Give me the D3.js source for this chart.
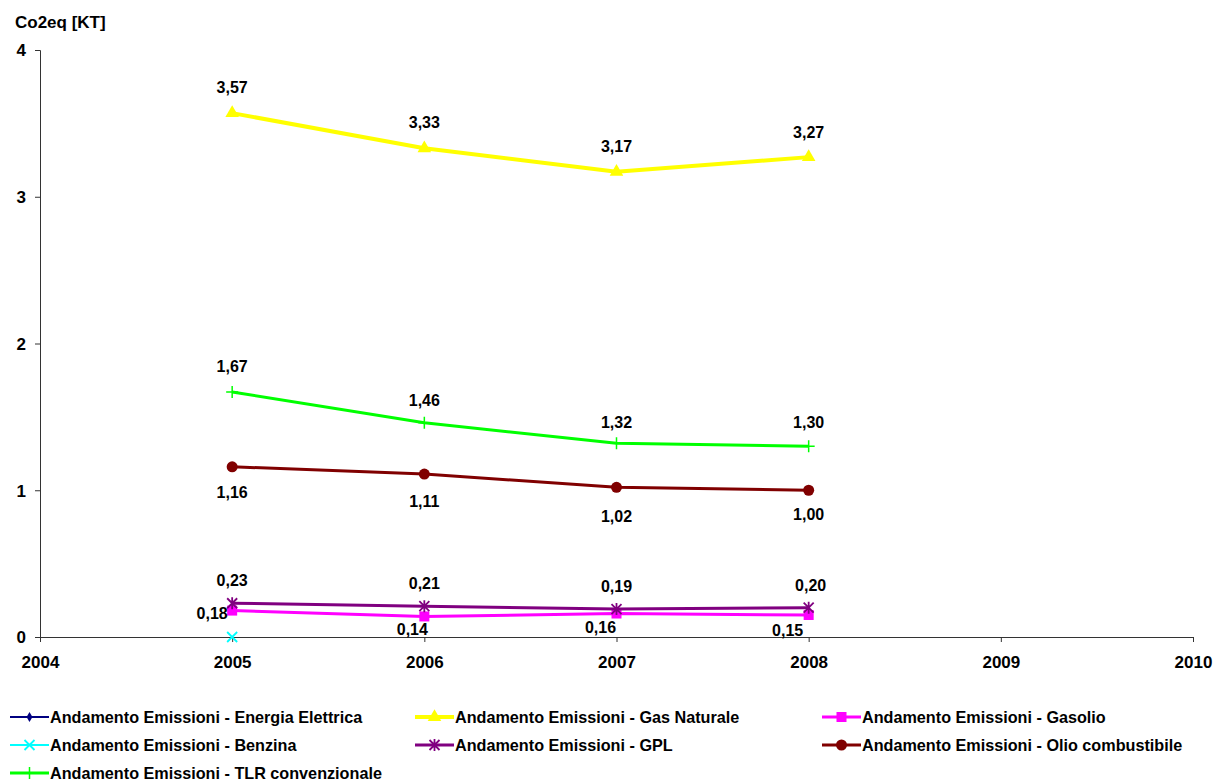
<!DOCTYPE html>
<html>
<head>
<meta charset="utf-8">
<script src="https://cdn.jsdelivr.net/npm/d3@7"></script>
<style>
  html, body { margin: 0; padding: 0; background: #fff; }
  svg { display: block; font-family: "Liberation Sans", Arial, sans-serif; }
</style>
</head>
<body>
<svg id="chart" width="1216" height="781"></svg>
<script>
// Years on the x axis and emission series (kt CO2eq)
const years = [2005, 2006, 2007, 2008];
const xTicks = [2004, 2005, 2006, 2007, 2008, 2009, 2010];
const yTicks = [0, 1, 2, 3, 4];

const energiaElettrica = [null, null, null, null];
const gasNaturale = [3.57, 3.33, 3.17, 3.27];
const gasolio = [0.18, 0.14, 0.16, 0.15];
const benzina = [0, null, null, null];
const gpl = [0.23, 0.21, 0.19, 0.20];
const olioCombustibile = [1.16, 1.11, 1.02, 1.00];
const tlrConvenzionale = [1.67, 1.46, 1.32, 1.30];

const series = [
  { name: "Andamento Emissioni - Energia Elettrica", values: energiaElettrica, color: "#000080", width: 2, marker: "diamond", labels: false },
  { name: "Andamento Emissioni - Gas Naturale", values: gasNaturale, color: "#ffff00", width: 4, marker: "triangle", labels: true, labelDx: [0, 0, 0, 0], labelDy: [-20, -20, -20, -19] },
  { name: "Andamento Emissioni - Gasolio", values: gasolio, color: "#ff00ff", width: 3, marker: "square", labels: true, labelDx: [-20, -12, -16, -21], labelDy: [8, 19, 19, 21] },
  { name: "Andamento Emissioni - Benzina", values: benzina, color: "#00ffff", width: 2, marker: "x", labels: false },
  { name: "Andamento Emissioni - GPL", values: gpl, color: "#800080", width: 3, marker: "star", labels: true, labelDx: [0, 0, 0, 2], labelDy: [-17, -17, -17, -17] },
  { name: "Andamento Emissioni - Olio combustibile", values: olioCombustibile, color: "#800000", width: 3, marker: "circle", labels: true, labelDx: [0, 0, 0, 0], labelDy: [31, 33, 35, 30] },
  { name: "Andamento Emissioni - TLR convenzionale", values: tlrConvenzionale, color: "#00ff00", width: 3, marker: "plus", labels: true, labelDx: [0, 0, 0, 0], labelDy: [-20, -17, -15, -18] }
];

const svg = d3.select("#chart");
const margin = { left: 40, right: 23, top: 50, bottom: 144 };
const W = 1216, H = 781;

const x = d3.scaleLinear().domain([2004, 2010]).range([margin.left, W - margin.right]);
const y = d3.scaleLinear().domain([0, 4]).range([H - margin.bottom, margin.top]);

const fmt = v => d3.format(".2f")(v).replace(".", ",");

// Axes
const xAxis = svg.append("g")
  .attr("transform", `translate(0,${y(0)})`)
  .call(d3.axisBottom(x).tickValues(xTicks).tickFormat(d3.format("d")).tickSizeOuter(0).tickSize(5).tickPadding(14));
const yAxis = svg.append("g")
  .attr("transform", `translate(${x(2004)},0)`)
  .call(d3.axisLeft(y).tickValues(yTicks).tickFormat(d3.format("d")).tickSizeOuter(0).tickSize(5).tickPadding(9));

[xAxis, yAxis].forEach(g => {
  g.selectAll("path, line").attr("stroke", "#333").attr("stroke-width", 1);
  g.selectAll("text").attr("fill", "#000").style("font-size", "17px").style("font-weight", "bold");
});
yAxis.selectAll("text").attr("dy", "0.35em");

svg.append("text")
  .attr("x", 15).attr("y", 28)
  .style("font-size", "17px").style("font-weight", "bold")
  .text("Co2eq [KT]");

// Marker drawing
function drawMarker(g, type, color) {
  if (type === "diamond") {
    g.append("path").attr("d", d3.symbol(d3.symbolDiamond, 30)()).attr("fill", color);
  } else if (type === "triangle") {
    g.append("path").attr("d", d3.symbol(d3.symbolTriangle, 80)()).attr("fill", color);
  } else if (type === "square") {
    g.append("rect").attr("x", -5).attr("y", -5).attr("width", 10).attr("height", 10).attr("fill", color);
  } else if (type === "circle") {
    g.append("circle").attr("r", 5.5).attr("fill", color);
  } else if (type === "x") {
    g.append("path").attr("d", "M-5,-5L5,5M-5,5L5,-5").attr("stroke", color).attr("stroke-width", 1.8).attr("fill", "none");
  } else if (type === "star") {
    g.append("path").attr("d", "M-5,-5L5,5M-5,5L5,-5M0,-6L0,6").attr("stroke", color).attr("stroke-width", 1.8).attr("fill", "none");
  } else if (type === "plus") {
    g.append("path").attr("d", "M-6,0L6,0M0,-6L0,6").attr("stroke", color).attr("stroke-width", 1.5).attr("fill", "none");
  }
}

const line = d3.line()
  .defined(d => d.v !== null)
  .x(d => x(d.year))
  .y(d => y(d.v));

const drawOrder = [6, 5, 2, 4, 3, 1, 0];
drawOrder.forEach(i => {
  const s = series[i];
  const pts = s.values.map((v, j) => ({ year: years[j], v, j }));
  svg.append("path")
    .datum(pts)
    .attr("d", line)
    .attr("fill", "none")
    .attr("stroke", s.color)
    .attr("stroke-width", s.width)
    .attr("stroke-linejoin", "round");
  pts.filter(p => p.v !== null).forEach(p => {
    const g = svg.append("g").attr("transform", `translate(${x(p.year)},${y(p.v)})`);
    drawMarker(g, s.marker, s.color);
  });
});

// Data labels
series.forEach(s => {
  if (!s.labels) return;
  s.values.forEach((v, j) => {
    if (v === null) return;
    svg.append("text")
      .attr("x", x(years[j]) + s.labelDx[j])
      .attr("y", y(v) + s.labelDy[j])
      .attr("text-anchor", "middle")
      .style("font-size", "16px").style("font-weight", "bold")
      .text(fmt(v));
  });
});

// Legend
const legendCols = [10, 415, 822];
const legendRows = [717, 745, 773];
series.forEach((s, i) => {
  const col = i % 3, row = Math.floor(i / 3);
  const lx = legendCols[col], ly = legendRows[row];
  const g = svg.append("g").attr("transform", `translate(${lx},${ly})`);
  g.append("line").attr("x1", 0).attr("x2", 39).attr("y1", 0).attr("y2", 0)
    .attr("stroke", s.color).attr("stroke-width", s.width);
  const m = g.append("g").attr("transform", "translate(19.5,0)");
  drawMarker(m, s.marker, s.color);
  g.append("text").attr("x", 40).attr("y", 0).attr("dy", "0.35em")
    .style("font-size", "16.2px").style("font-weight", "bold")
    .text(s.name);
});
</script>
</body>
</html>
